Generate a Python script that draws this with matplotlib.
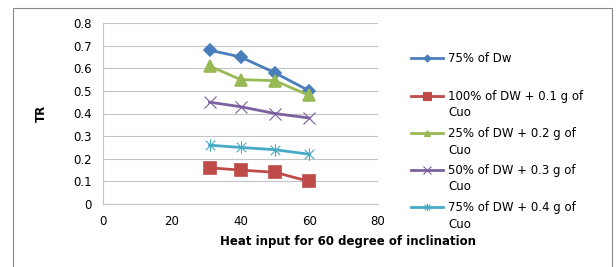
import matplotlib
matplotlib.use("Agg")
import matplotlib.pyplot as plt
from matplotlib.lines import Line2D
from matplotlib.patches import Rectangle
from matplotlib.path import Path

# data
heat = [31, 40, 50, 60]
labels = ['75% of Dw',
          '100% of DW + 0.1 g of\nCuo',
          '25% of DW + 0.2 g of\nCuo',
          '50% of DW + 0.3 g of\nCuo',
          '75% of DW + 0.4 g of\nCuo']
tr_dw75 = [0.68, 0.65, 0.58, 0.50]
tr_dw100_01 = [0.16, 0.15, 0.14, 0.10]
tr_dw25_02 = [0.61, 0.55, 0.545, 0.48]
tr_dw50_03 = [0.45, 0.43, 0.40, 0.38]
tr_dw75_04 = [0.26, 0.25, 0.24, 0.22]
series = [tr_dw75, tr_dw100_01, tr_dw25_02, tr_dw50_03, tr_dw75_04]

# excel style asterisk marker (x plus vertical bar)
star = Path([(-1, -1), (1, 1), (-1, 1), (1, -1), (0, -1.3), (0, 1.3)],
            [Path.MOVETO, Path.LINETO, Path.MOVETO, Path.LINETO, Path.MOVETO, Path.LINETO])

colors = ['#4A7EBB', '#BE4B48', '#98B954', '#7D60A0', '#46AAC5']
markers = ['D', 's', '^', 'x', star]
msizes = [6, 9, 8, 9, 9]
medge = [1.2, 1.2, 1.2, 0.8, 0.8]

plt.rcParams['font.family'] = ['DejaVu Sans']

fig = plt.figure(figsize=(6.16, 2.67), dpi=100)
fig.add_artist(Rectangle((13 / 616, -0.1), (612 - 13) / 616, 1.1 - 8 / 267,
                         transform=fig.transFigure, fill=False, ec='#888888', lw=0.8))

ax = fig.add_axes([103 / 616, 1 - 204 / 267, 275 / 616, 181 / 267])
for ys, c, m, s, w in zip(series, colors, markers, msizes, medge):
    ax.plot(heat, ys, color=c, lw=2, marker=m, ms=s, mec=c, mfc=c, mew=w)

ax.set_xlim(0, 80)
ax.set_ylim(0, 0.8)
ax.set_xticks([0, 20, 40, 60, 80])
ax.set_yticks([i / 10 for i in range(9)])
ax.set_yticklabels(['0', '0.1', '0.2', '0.3', '0.4', '0.5', '0.6', '0.7', '0.8'])
ax.grid(axis='y', color='#C4C4C4', lw=0.8)
ax.set_axisbelow(True)
for sp in ['top', 'right']:
    ax.spines[sp].set_visible(False)
for sp in ['left', 'bottom']:
    ax.spines[sp].set_color('#C4C4C4')
ax.tick_params(length=0, labelsize=8.5, pad=8)
ax.set_xlabel('Heat input for 60 degree of inclination', fontsize=8.5,
              fontweight='bold', labelpad=4)
ax.xaxis.set_label_coords(0.89, -0.17)
ax.xaxis.label.set_ha('center')
ax.set_ylabel('TR', fontsize=8.5, fontweight='bold', labelpad=18)

# legend drawn by hand, Excel style (marker centred on first line)
leg_y = [58, 96, 133, 170, 207]
for lab, c, m, s, y in zip(labels, colors, markers, msizes, leg_y):
    yf = 1 - y / 267
    fig.add_artist(Line2D([411 / 616, 427 / 616, 443 / 616], [yf, yf, yf],
                          transform=fig.transFigure, color=c, lw=2,
                          marker=m, ms=s * 0.6, mec=c, mfc=c, mew=0.8,
                          markevery=[1]))
    fig.text(448 / 616, yf + 6 / 267, lab, fontsize=8.5, va='top', ha='left',
             linespacing=1.35)

fig.savefig('out.png', dpi=100)
